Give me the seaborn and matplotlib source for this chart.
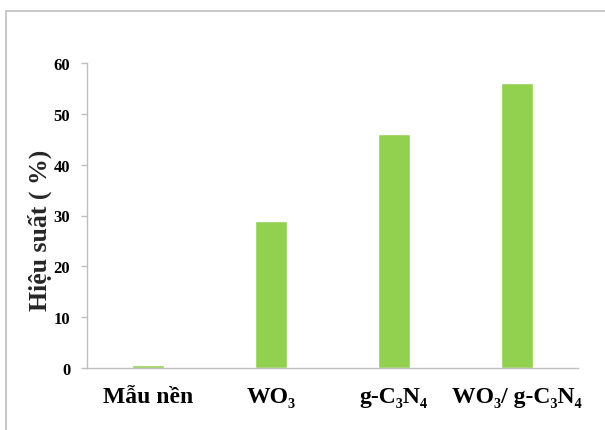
import matplotlib
matplotlib.use("Agg")
import matplotlib.pyplot as plt
import seaborn as sns
import pandas as pd
from matplotlib.patches import Rectangle

categories = ["Mẫu nền", "WO₃", "g-C₃N₄", "WO₃/ g-C₃N₄"]
values = [0.5, 29, 46, 56]
yticks = [0, 10, 20, 30, 40, 50, 60]

sns.set_theme(style="white")
plt.rcParams['font.family'] = ['Liberation Serif', 'DejaVu Serif']
plt.rcParams['font.weight'] = 'bold'

df = pd.DataFrame({"cat": categories, "val": values})

fig = plt.figure(figsize=(6.05, 4.31), dpi=100)
ax = fig.add_axes([87/605, 1-369/431, (578-87)/605, (369-64)/431])

sns.barplot(data=df, x="cat", y="val", color="#92D050", saturation=1,
            width=0.26, ax=ax)

ax.set_ylim(0, 60)
ax.set_yticks(yticks)
ax.set_yticklabels([str(t) for t in yticks], fontsize=12, fontweight='bold')
ax.set_xticks(range(len(categories)))
ax.set_xticklabels(categories, fontsize=17, fontweight='bold')
ax.set_xlabel("")
ax.set_ylabel("Hiệu suất ( %)", fontsize=18.5, fontweight='bold')
ax.yaxis.set_label_coords(-0.072, 0.455)

for s in ["top", "right"]:
    ax.spines[s].set_visible(False)
for s in ["left", "bottom"]:
    ax.spines[s].set_color("#BFBFBF")
    ax.spines[s].set_linewidth(1)
ax.tick_params(axis='y', which='both', left=True, length=4, color="#BFBFBF",
               width=1, pad=8, labelcolor='black')
ax.tick_params(axis='x', bottom=False, pad=7, labelcolor='black')

fig.patches.append(Rectangle((6/605, -0.1), 1.2, 0.1 + (1-12/431),
                             transform=fig.transFigure, fill=False,
                             edgecolor="#BFBFBF", linewidth=1.2, zorder=-1))

fig.savefig("out.png", dpi=100)
